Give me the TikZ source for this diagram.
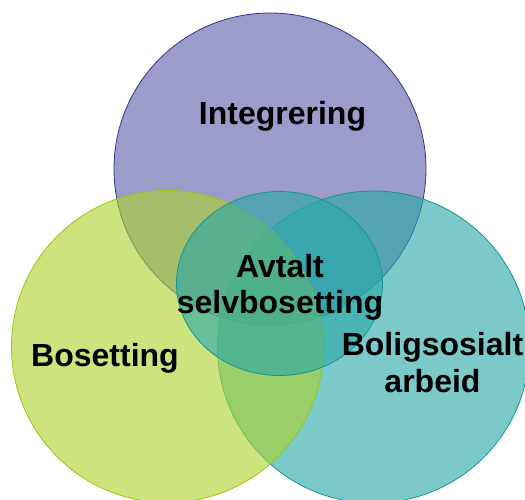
\documentclass[tikz,border=0pt]{standalone}
\usepackage{fontspec}
\setmainfont{Liberation Sans}
\definecolor{purplefill}{RGB}{96,96,170}
\definecolor{purpleedge}{RGB}{50,50,150}
\definecolor{limefill}{RGB}{172,210,47}
\definecolor{limeedge}{RGB}{150,200,10}
\definecolor{tealfill}{RGB}{42,168,168}
\definecolor{tealedge}{RGB}{20,150,150}
\tikzset{
  venn/.style={fill opacity=0.62, line width=0.8pt},
  lbl/.style={font=\fontsize{32}{37}\selectfont\bfseries, anchor=base, inner sep=0pt, text=black}
}
\begin{document}
\begin{tikzpicture}[x=1pt,y=-1pt]
\useasboundingbox (0,0) rectangle (525,499);
\begin{scope}
\clip (0,0) rectangle (525,499);
\draw[venn, fill=purplefill, draw=purpleedge] (270,169) circle[radius=156];
\draw[venn, fill=tealfill, draw=tealedge] (373.5,347) circle[radius=156];
\draw[venn, fill=limefill, draw=limeedge] (167.5,346.5) circle[radius=156];
\draw[venn, fill=tealfill, draw=tealedge] (279.5,283.5) ellipse[x radius=103, y radius=92];
\end{scope}
\node[lbl] (integ) at (282.5,124) {Integrering};
\node[lbl] (boset) at (105,366) {Bosetting};
\node[lbl] (avt1) at (280,277) {Avtalt};
\node[lbl] (avt2) at (280,313) {selvbosetting};
\node[lbl] (bol1) at (432.5,355) {Boligsosialt};
\node[lbl] (bol2) at (432.5,392) {arbeid};
\end{tikzpicture}
\end{document}
